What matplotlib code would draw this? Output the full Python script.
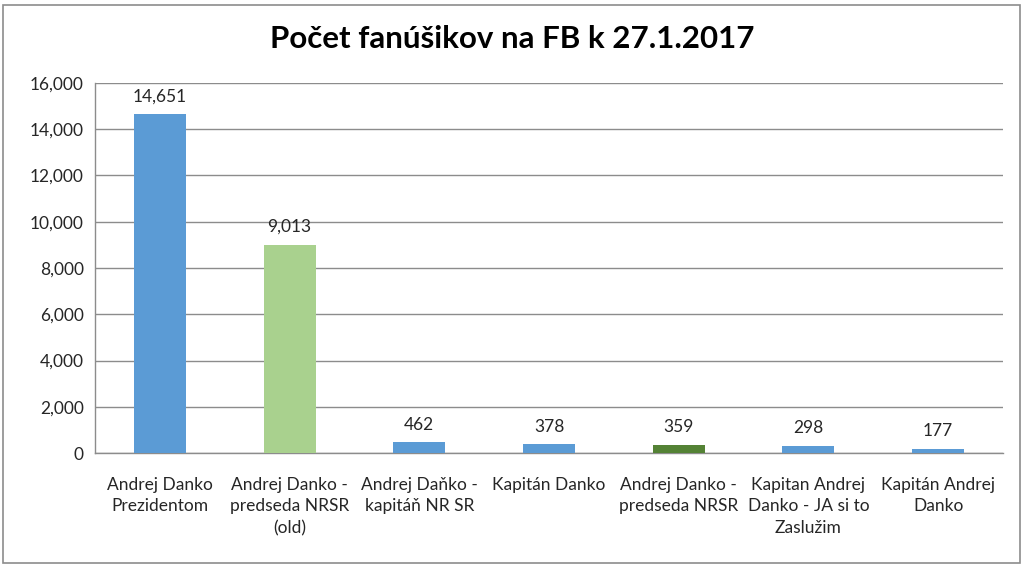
import matplotlib.pyplot as plt
from matplotlib.patches import Rectangle
from matplotlib.ticker import FuncFormatter

# Data
categories = ["Andrej Danko\nPrezidentom",
              "Andrej Danko -\npredseda NRSR\n(old)",
              "Andrej Daňko -\nkapitáň NR SR",
              "Kapitán Danko",
              "Andrej Danko -\npredseda NRSR",
              "Kapitan Andrej\nDanko - JA si to\nZaslužim",
              "Kapitán Andrej\nDanko"]
fans = [14651, 9013, 462, 378, 359, 298, 177]
colors = ["#5B9BD5", "#A9D18E", "#5B9BD5", "#5B9BD5", "#548235", "#5B9BD5", "#5B9BD5"]

plt.rcParams['font.family'] = ['Lato', 'DejaVu Sans']

fig = plt.figure(figsize=(10.24, 5.66), dpi=100)
ax = fig.add_axes([0.0928, 0.1996, 0.8867, 0.6538])

x = range(len(categories))
ax.bar(x, fans, width=0.4, color=colors, zorder=3)

# value labels
for i, v in enumerate(fans):
    ax.annotate(f"{v:,}", (i, v), xytext=(0, 7), textcoords="offset points",
                ha="center", va="bottom", fontsize=12.5, color="#262626")

ax.set_xlim(-0.5, len(categories) - 0.5)
ax.set_ylim(0, 16000)
ax.set_yticks(range(0, 16001, 2000))
ax.yaxis.set_major_formatter(FuncFormatter(lambda v, p: f"{int(v):,}"))
ax.set_xticks(list(x))
ax.set_xticklabels(categories, fontsize=12.5, linespacing=1.45, color="#262626")
ax.tick_params(axis="y", labelsize=12.5, length=0, pad=8, labelcolor="#262626")
ax.tick_params(axis="x", length=0, pad=17)

ax.grid(axis="y", color="#8C8C8C", linewidth=1, zorder=0)
for s in ["top", "right"]:
    ax.spines[s].set_visible(False)
for s in ["left", "bottom"]:
    ax.spines[s].set_color("#8C8C8C")
    ax.spines[s].set_linewidth(1)

fig.suptitle("Počet fanúšikov na FB k 27.1.2017", y=0.955, fontsize=22.5,
             fontweight="bold", color="#000000")

# outer border
fig.patches.append(Rectangle((0.003, 0.006), 0.993, 0.985, transform=fig.transFigure,
                             fill=False, edgecolor="#8C8C8C", linewidth=1.2))

fig.savefig("out.png", dpi=100)
